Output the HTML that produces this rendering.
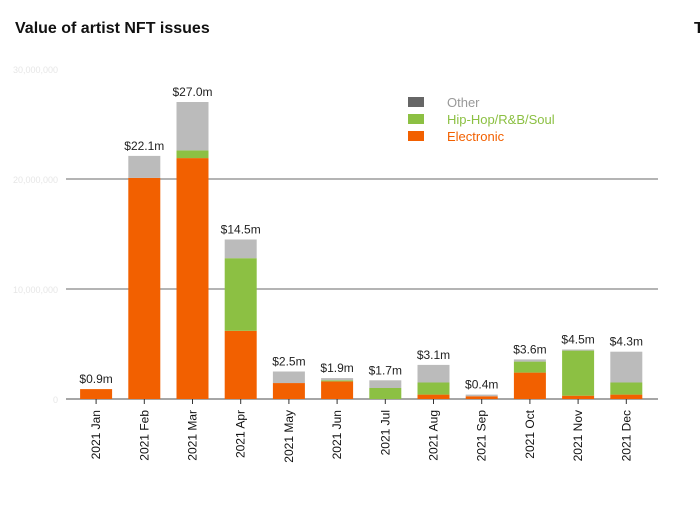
<!DOCTYPE html>
<html><head><meta charset="utf-8"><style>
html,body{margin:0;padding:0;background:#fff;width:700px;height:508px;overflow:hidden}
svg{display:block;font-family:"Liberation Sans",sans-serif}
</style></head><body>
<svg id="c" width="700" height="508">
<text x="15" y="33" font-size="16" font-weight="bold" fill="#111">Value of artist NFT issues</text>
<text x="694" y="33" font-size="16" font-weight="bold" fill="#111">T</text>
<g id="legend">
<rect x="408" y="97" width="16" height="10" fill="#666"/>
<text x="447" y="107" font-size="13" fill="#999">Other</text>
<rect x="408" y="114" width="16" height="10" fill="#8cc043"/>
<text x="447" y="124" font-size="13" fill="#8cc043">Hip-Hop/R&amp;B/Soul</text>
<rect x="408" y="131" width="16" height="10" fill="#f26000"/>
<text x="447" y="141" font-size="13" fill="#f26000">Electronic</text>
</g>
</svg>
<script>
const months=["2021 Jan","2021 Feb","2021 Mar","2021 Apr","2021 May","2021 Jun","2021 Jul","2021 Aug","2021 Sep","2021 Oct","2021 Nov","2021 Dec"];
const electronic=[0.9,20.1,21.9,6.2,1.45,1.6,0,0.4,0.25,2.4,0.3,0.4];
const hiphop=[0,0,0.7,6.6,0,0.1,1.0,1.1,0,1.0,4.1,1.1];
const other=[0,2.0,4.4,1.7,1.05,0.2,0.7,1.6,0.15,0.2,0.1,2.8];
const totals=["$0.9m","$22.1m","$27.0m","$14.5m","$2.5m","$1.9m","$1.7m","$3.1m","$0.4m","$3.6m","$4.5m","$4.3m"];
const yTicks=[0,10,20,30];
const yTickLabels=["0","10,000,000","20,000,000","30,000,000"];
const svg=document.getElementById('c');const NS="http://www.w3.org/2000/svg";
const y0=399,pxPer=11,x0=72,step=48.2,bw=32;
const y=v=>y0-v*pxPer; const xc=i=>x0+step*(i+0.5);
function mk(t,a,p){const e=document.createElementNS(NS,t);for(const k in a)e.setAttribute(k,a[k]);(p||svg).appendChild(e);return e;}
yTicks.forEach((t,i)=>{
 if(t>0&&t<30){const l=mk('line',{x1:66,x2:658,y1:y(t),y2:y(t),stroke:'#888','stroke-width':1.2});
 
 }
 const tx=mk('text',{x:58,y:y(t)+4,'font-size':9,'text-anchor':'end',fill:'#e6e6e6'});tx.textContent=yTickLabels[i];
 
 
});
const ax=mk('line',{x1:66,x2:658,y1:y0,y2:y0,stroke:'#888','stroke-width':1.5});


months.forEach((m,i)=>{
 const cx=xc(i);let base=0;
 [[electronic[i],'#f26000','electronic'],[hiphop[i],'#8cc043','hiphop'],[other[i],'#bbbbbb','other']].forEach(([v,c,n])=>{
  if(v<=0)return;
  const r=mk('rect',{x:cx-bw/2,y:y(base+v),width:bw,height:v*pxPer,fill:c});
  
  
  base+=v;
 });
 const lb=mk('text',{x:cx,y:y(base)-6,'font-size':12,'text-anchor':'middle',fill:'#222'});lb.textContent=totals[i];
 
 
 const tk=mk('line',{x1:cx,x2:cx,y1:y0,y2:y0+5,stroke:'#333','stroke-width':1});
 
 
 const xl=mk('text',{x:0,y:0,'font-size':12,'text-anchor':'end',fill:'#111',transform:`translate(${cx+4},${y0+11}) rotate(-90)`});xl.textContent=m;
 
 
});
</script>
</body></html>
